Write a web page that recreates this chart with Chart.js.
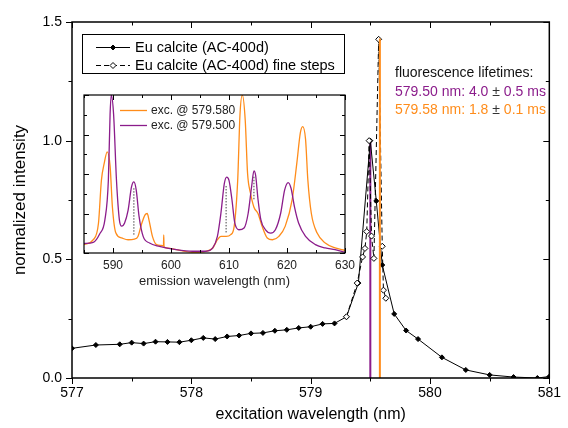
<!DOCTYPE html>
<html>
<head>
<meta charset="utf-8">
<script src="https://cdn.jsdelivr.net/npm/chart.js@4/dist/chart.umd.min.js"></script>
<style>
  body { margin: 0; background: #fff; }
  #wrap { position: relative; width: 568px; height: 428px; }
  #main { position: absolute; left: 0; top: 0; }
  #inset { position: absolute; left: 60px; top: 85px; }
</style>
</head>
<body>
<div id="wrap">
  <canvas id="main" width="568" height="428"></canvas>
  <canvas id="inset" width="300" height="210"></canvas>
</div>
<script>
// excitation spectrum, coarse steps
const exWl  = [577.0, 577.2, 577.4, 577.5, 577.6, 577.7, 577.8, 577.9, 578.0, 578.1, 578.2, 578.3, 578.4, 578.5, 578.6, 578.7, 578.8, 578.9, 579.0, 579.1, 579.2, 579.3, 579.4, 579.5, 579.55, 579.6, 579.7, 579.8, 579.9, 580.1, 580.3, 580.5, 580.7, 580.9, 581.0];
const exInt = [0.125, 0.139, 0.142, 0.149, 0.145, 0.153, 0.152, 0.151, 0.159, 0.169, 0.164, 0.175, 0.179, 0.188, 0.190, 0.199, 0.203, 0.211, 0.216, 0.228, 0.230, 0.258, 0.400, 1.000, 0.746, 0.476, 0.270, 0.200, 0.164, 0.087, 0.034, 0.013, 0.004, 0.000, 0.006];

// excitation spectrum, fine steps
const fineWl  = [579.30, 579.39, 579.435, 579.455, 579.47, 579.49, 579.51, 579.53, 579.57, 579.60, 579.61, 579.63];
const fineInt = [0.258, 0.400, 0.510, 0.546, 0.617, 1.000, 0.598, 0.504, 1.427, 0.555, 0.370, 0.336];

// lifetime excitation positions
const markWl  = [579.50, 579.58];
const markInt = [1.00, 1.43];

// tick values
const exMajor = [577, 578, 579, 580, 581];
const emMajor = [590, 600, 610, 620, 630];

// inset emission spectra
const purpleWl  = [585.0, 586.6, 587.7, 588.6, 589.2, 589.5, 589.7, 590.1, 590.6, 591.1, 591.5, 592.0, 592.6, 593.2, 593.6, 594.0, 594.5, 595.2, 596.3, 598.0, 600.9, 603.7, 606.0, 607.2, 608.0, 608.6, 609.2, 609.6, 610.0, 610.5, 611.0, 611.7, 612.6, 613.3, 613.9, 614.3, 614.6, 615.0, 615.5, 616.3, 617.2, 618.0, 618.9, 619.6, 620.2, 620.7, 621.3, 622.0, 623.2, 624.9, 626.6, 628.3, 630.0];
const purpleInt = [0.060, 0.067, 0.120, 0.210, 0.460, 0.880, 1.000, 0.880, 0.460, 0.210, 0.170, 0.190, 0.270, 0.420, 0.450, 0.400, 0.230, 0.105, 0.063, 0.042, 0.021, 0.011, 0.011, 0.032, 0.105, 0.250, 0.440, 0.480, 0.460, 0.340, 0.190, 0.147, 0.158, 0.250, 0.420, 0.520, 0.490, 0.340, 0.210, 0.147, 0.126, 0.147, 0.250, 0.400, 0.446, 0.410, 0.290, 0.190, 0.105, 0.053, 0.032, 0.021, 0.004];
const orangeWl  = [585.0, 586.6, 587.5, 588.0, 588.5, 589.0, 589.5, 589.9, 590.5, 591.5, 592.6, 593.7, 594.3, 594.9, 595.5, 595.9, 596.2, 596.8, 597.5, 598.3, 598.7, 598.75, 598.8, 599.2, 601.5, 603.7, 606.0, 607.2, 608.0, 608.6, 609.5, 610.3, 610.9, 611.5, 611.9, 612.3, 612.8, 613.2, 613.7, 614.3, 615.0, 615.7, 616.6, 617.5, 618.6, 619.7, 620.9, 621.7, 622.3, 622.7, 623.2, 623.6, 624.2, 625.2, 626.6, 628.3, 630.0];
const orangeInt = [0.053, 0.084, 0.190, 0.460, 0.570, 0.640, 0.550, 0.290, 0.126, 0.095, 0.084, 0.088, 0.105, 0.180, 0.240, 0.250, 0.210, 0.105, 0.053, 0.048, 0.045, 0.115, 0.040, 0.032, 0.017, 0.004, 0.011, 0.032, 0.084, 0.105, 0.105, 0.116, 0.170, 0.460, 0.880, 1.000, 0.840, 0.505, 0.380, 0.290, 0.250, 0.170, 0.095, 0.084, 0.105, 0.170, 0.340, 0.570, 0.760, 0.800, 0.720, 0.460, 0.250, 0.126, 0.063, 0.032, 0.017];

// dotted guides in the inset
const guideWl   = [593.6, 609.5, 614.3];
const guideLow  = [0.116, 0.130, 0.340];
const guideHigh = [0.410, 0.425, 0.490];

const PURPLE = '#8b1c8b';
const ORANGE = '#ff8c1a';
const FONT = "'Liberation Sans', Arial, sans-serif";

function pts(xs, ys) {
  return xs.map((x, i) => ({ x: x, y: ys[i] }));
}

// box around the plot with tick marks on all four sides
const framePlugin = {
  id: 'frame',
  afterDraw(chart, args, o) {
    const ctx = chart.ctx, a = chart.chartArea;
    const x = chart.scales.x, y = chart.scales.y;
    ctx.save();
    ctx.strokeStyle = '#000';
    ctx.lineWidth = o.lineWidth;
    ctx.strokeRect(a.left, a.top, a.right - a.left, a.bottom - a.top);
    ctx.lineWidth = 1;
    ctx.beginPath();
    const xt = (vals, len) => vals.forEach(v => {
      const px = Math.round(x.getPixelForValue(v)) + 0.5;
      ctx.moveTo(px, a.bottom); ctx.lineTo(px, a.bottom + o.bottomDir * len);
      ctx.moveTo(px, a.top); ctx.lineTo(px, a.top + len);
    });
    const yt = (vals, len) => vals.forEach(v => {
      const py = Math.round(y.getPixelForValue(v)) + 0.5;
      ctx.moveTo(a.left, py); ctx.lineTo(a.left + o.leftDir * len, py);
      ctx.moveTo(a.right, py); ctx.lineTo(a.right - len, py);
    });
    xt(o.xMajor, o.major); xt(o.xMinor, o.minor);
    yt(o.yMajor, o.major); yt(o.yMinor, o.minor);
    ctx.stroke();
    ctx.restore();
  }
};

// legend box and lifetime notes
const notesPlugin = {
  id: 'notes',
  afterDraw(chart) {
    const ctx = chart.ctx;
    ctx.save();
    ctx.strokeStyle = '#000';
    ctx.lineWidth = 1;
    ctx.strokeRect(82.5, 34.5, 262, 39);
    ctx.font = '14.5px ' + FONT;
    ctx.fillStyle = '#000';
    ctx.textBaseline = 'middle';
    // row 1
    ctx.beginPath(); ctx.moveTo(96, 47.5); ctx.lineTo(130, 47.5); ctx.stroke();
    diamond(ctx, 113, 47.5, 2.5, '#000');
    ctx.fillText('Eu calcite (AC-400d)', 135, 48);
    // row 2
    ctx.setLineDash([5, 3]);
    ctx.beginPath(); ctx.moveTo(96, 65.5); ctx.lineTo(130, 65.5); ctx.stroke();
    ctx.setLineDash([]);
    diamond(ctx, 113, 65.5, 3, '#fff');
    ctx.fillText('Eu calcite (AC-400d) fine steps', 135, 66);

    ctx.font = '14px ' + FONT;
    ctx.fillStyle = '#111';
    ctx.fillText('fluorescence lifetimes:', 395, 73);
    line(ctx, 395, 92, [['579.50 nm: 4.0 ', PURPLE], ['\u00b1', '#333'], [' 0.5 ms', PURPLE]]);
    line(ctx, 395, 110, [['579.58 nm: 1.8 ', ORANGE], ['\u00b1', '#333'], [' 0.1 ms', ORANGE]]);
    ctx.restore();
  }
};

function diamond(ctx, cx, cy, r, fill) {
  ctx.beginPath();
  ctx.moveTo(cx, cy - r); ctx.lineTo(cx + r, cy); ctx.lineTo(cx, cy + r); ctx.lineTo(cx - r, cy);
  ctx.closePath();
  ctx.fillStyle = fill; ctx.fill(); ctx.stroke();
  ctx.fillStyle = '#000';
}

function line(ctx, x, y, parts) {
  parts.forEach(p => {
    ctx.fillStyle = p[1];
    ctx.fillText(p[0], x, y);
    x += ctx.measureText(p[0]).width;
  });
}

// inset legend
const insetLegend = {
  id: 'insetLegend',
  afterDraw(chart) {
    const ctx = chart.ctx;
    ctx.save();
    ctx.font = '12px ' + FONT;
    ctx.textBaseline = 'middle';
    ctx.lineWidth = 1.3;
    [['exc. @ 579.580', ORANGE, 25], ['exc. @ 579.500', PURPLE, 40]].forEach(r => {
      ctx.strokeStyle = r[1];
      ctx.beginPath(); ctx.moveTo(60, r[2] + 0.5); ctx.lineTo(87, r[2] + 0.5); ctx.stroke();
      ctx.fillStyle = '#222';
      ctx.fillText(r[0], 91, r[2] + 1);
    });
    ctx.restore();
  }
};

Chart.defaults.font.family = FONT;
Chart.defaults.color = '#000';

const mainChart = new Chart(document.getElementById('main'), {
  type: 'line',
  data: {
    datasets: [
      { data: pts([markWl[0], markWl[0]], [0, markInt[0]]), borderColor: PURPLE, borderWidth: 2, pointRadius: 0, order: 3 },
      { data: pts([markWl[1], markWl[1]], [0, markInt[1]]), borderColor: ORANGE, borderWidth: 2, pointRadius: 0, order: 0 },
      { label: 'Eu calcite (AC-400d)', data: pts(exWl, exInt), borderColor: '#000', borderWidth: 1,
        pointStyle: 'rectRot', pointRadius: 2.5, pointBackgroundColor: '#000', pointBorderColor: '#000', order: 2 },
      { label: 'Eu calcite (AC-400d) fine steps', data: pts(fineWl, fineInt), borderColor: '#000', borderWidth: 1, borderDash: [5, 3],
        pointStyle: 'rectRot', pointRadius: 3, pointBackgroundColor: '#fff', pointBorderColor: '#000', pointBorderWidth: 1, order: 1 }
    ]
  },
  options: {
    responsive: false,
    animation: false,
    layout: { padding: { top: 22, right: 12, left: 0, bottom: 0 } },
    plugins: {
      legend: { display: false },
      tooltip: { enabled: false },
      frame: { lineWidth: 1.5, major: 6, minor: 3.5, bottomDir: 1, leftDir: -1,
        xMajor: exMajor, xMinor: [577.5, 578.5, 579.5, 580.5],
        yMajor: [0, 0.5, 1.0, 1.5], yMinor: [0.25, 0.75, 1.25] }
    },
    scales: {
      x: {
        type: 'linear', min: 577, max: 581,
        grid: { display: false, drawTicks: false }, border: { display: false },
        afterBuildTicks(s) { s.ticks = exMajor.map(v => ({ value: v })); },
        ticks: { autoSkip: false, padding: 7, font: { size: 14 } },
        title: { display: true, text: 'excitation wavelength (nm)', font: { size: 16 }, padding: { top: 0, bottom: 4 } },
        afterFit(s) { s.height = 50; }
      },
      y: {
        min: 0, max: 1.5,
        grid: { display: false, drawTicks: false }, border: { display: false },
        ticks: { stepSize: 0.5, padding: 10, font: { size: 14 }, callback: v => v.toFixed(1) },
        title: { display: true, text: 'normalized intensity', font: { size: 17 }, padding: { top: 10, bottom: 0 } },
        afterFit(s) { s.width = 72; }
      }
    }
  },
  plugins: [framePlugin, notesPlugin]
});

const guideSets = guideWl.map((w, i) => ({
  data: pts([w, w], [guideLow[i], guideHigh[i]]),
  borderColor: '#444', borderWidth: 1, borderDash: [1.5, 1.5], pointRadius: 0, order: 0
}));

const insetChart = new Chart(document.getElementById('inset'), {
  type: 'line',
  data: {
    datasets: [
      { label: 'exc. @ 579.580', data: pts(orangeWl, orangeInt), borderColor: ORANGE, borderWidth: 1.3,
        pointRadius: 0, cubicInterpolationMode: 'monotone', order: 2 },
      { label: 'exc. @ 579.500', data: pts(purpleWl, purpleInt), borderColor: PURPLE, borderWidth: 1.3,
        pointRadius: 0, cubicInterpolationMode: 'monotone', order: 1 }
    ].concat(guideSets)
  },
  options: {
    responsive: false,
    animation: false,
    layout: { padding: { top: 10, right: 15, left: 24, bottom: 0 } },
    plugins: {
      legend: { display: false },
      tooltip: { enabled: false },
      frame: { lineWidth: 1.2, major: 5, minor: 3, bottomDir: -1, leftDir: 1,
        xMajor: emMajor, xMinor: [585, 595, 605, 615, 625],
        yMajor: [0, 0.25, 0.5, 0.75, 1], yMinor: [0.125, 0.375, 0.625, 0.875] }
    },
    scales: {
      x: {
        type: 'linear', min: 585, max: 630,
        grid: { display: false, drawTicks: false }, border: { display: false },
        afterBuildTicks(s) { s.ticks = emMajor.map(v => ({ value: v })); },
        ticks: { autoSkip: false, padding: 5, font: { size: 12 }, color: '#222' },
        title: { display: true, text: 'emission wavelength (nm)', font: { size: 13 }, color: '#222', padding: { top: 0, bottom: 6 } },
        afterFit(s) { s.height = 42; }
      },
      y: { display: false, min: 0, max: 1 }
    }
  },
  plugins: [framePlugin, insetLegend]
});
</script>
</body>
</html>
